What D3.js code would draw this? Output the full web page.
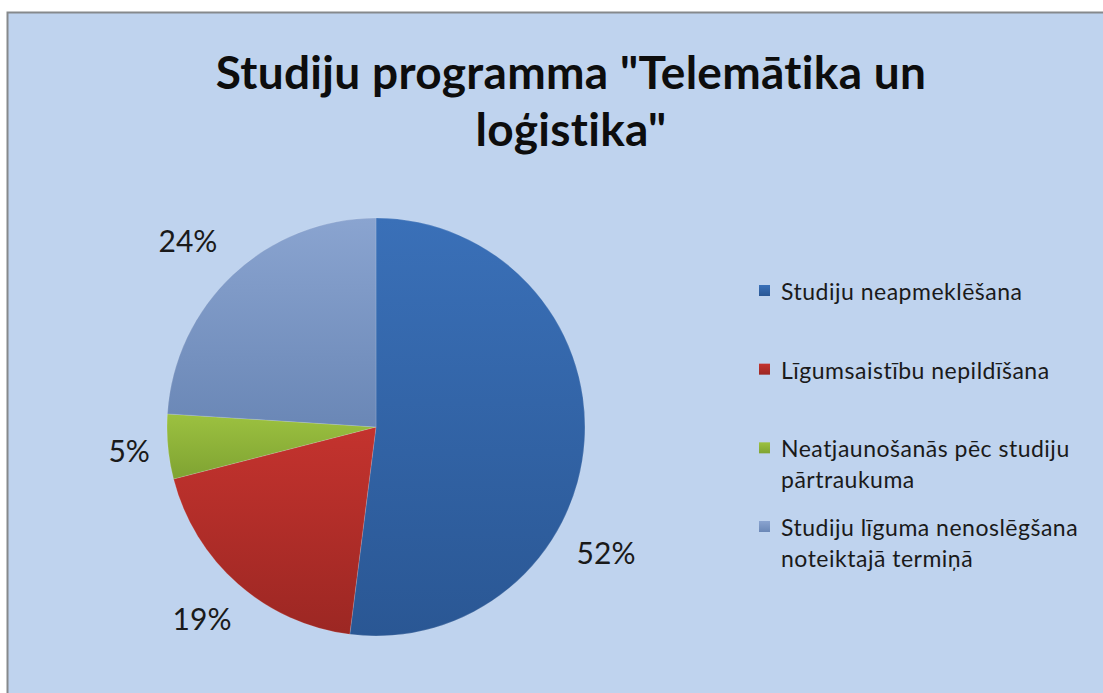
<!DOCTYPE html>
<html>
<head>
<meta charset="utf-8">
<script src="https://cdn.jsdelivr.net/npm/d3@7"></script>
<style>
  html, body { margin: 0; padding: 0; background: #fff; }
  svg { display: block; }
</style>
</head>
<body>
<div id="chart"></div>
<script>
// dati no attēla
const categories = [
  'Studiju neapmeklēšana',
  'Līgumsaistību nepildīšana',
  'Neatjaunošanās pēc studiju pārtraukuma',
  'Studiju līguma nenoslēgšana noteiktajā termiņā'
];
const legendLines = [
  ['Studiju neapmeklēšana'],
  ['Līgumsaistību nepildīšana'],
  ['Neatjaunošanās pēc studiju', 'pārtraukuma'],
  ['Studiju līguma nenoslēgšana', 'noteiktajā termiņā']
];
const values = [52, 19, 5, 24];
const titleLines = ['Studiju programma "Telemātika un', 'loģistika"'];

// krāsas (augša -> apakša gradientam)
const colorsTop = ['#3a70b8', '#c4332e', '#9cc140', '#8aa4d0'];
const colorsBot = ['#2a5794', '#9c2723', '#7fa332', '#6a87b6'];

const W = 1103, H = 693;
const cx = 376, cy = 427, R = 209;
const font = 'Lato, "Open Sans", sans-serif';

const svg = d3.select('#chart').append('svg')
  .attr('width', W).attr('height', H);

const defs = svg.append('defs');
categories.forEach((c, i) => {
  const g = defs.append('linearGradient')
    .attr('id', 'grad' + i)
    .attr('x1', 0).attr('y1', 0).attr('x2', 0).attr('y2', 1);
  g.append('stop').attr('offset', '0%').attr('stop-color', colorsTop[i]);
  g.append('stop').attr('offset', '100%').attr('stop-color', colorsBot[i]);
});

// fons + rāmis
svg.append('rect')
  .attr('x', 7.5).attr('y', 12.5)
  .attr('width', W + 10).attr('height', H + 10)
  .attr('fill', '#bfd3ee')
  .attr('stroke', '#86898c').attr('stroke-width', 2);

// virsraksts
const title = svg.append('text')
  .attr('text-anchor', 'middle')
  .attr('font-family', font)
  .attr('font-weight', 'bold')
  .attr('font-size', 46)
  .attr('letter-spacing', 0.3)
  .attr('fill', '#0d0d0d');
titleLines.forEach((t, i) => {
  title.append('tspan').attr('x', 571).attr('y', 89 + i * 57).text(t);
});

// pīrāgs
const pie = d3.pie().sort(null).value(d => d);
const arcs = pie(values);
const arc = d3.arc().innerRadius(0).outerRadius(R);

const g = svg.append('g').attr('transform', `translate(${cx},${cy})`);
g.selectAll('path.slice')
  .data(arcs)
  .join('path')
  .attr('class', 'slice')
  .attr('d', arc)
  .attr('fill', (d, i) => `url(#grad${i})`)
  .attr('stroke', 'rgba(255,255,255,0.25)')
  .attr('stroke-width', 0.6);

// datu etiķetes (Excel "best fit" nobīde lielākajam sektoram)
const labelShift = [25, 1, 0, -2];
const labelR = [262, 258, 248, 265];
g.selectAll('text.lbl')
  .data(arcs)
  .join('text')
  .attr('class', 'lbl')
  .attr('font-family', font)
  .attr('font-size', 30)
  .attr('fill', '#1a1a1a')
  .attr('text-anchor', 'middle')
  .attr('dominant-baseline', 'central')
  .attr('transform', (d, i) => {
    const a = (d.startAngle + d.endAngle) / 2 + labelShift[i] * Math.PI / 180;
    return `translate(${Math.sin(a) * labelR[i]},${-Math.cos(a) * labelR[i]})`;
  })
  .text(d => d.data + '%');

// leģenda
const legY = d3.scalePoint().domain(d3.range(categories.length)).range([291, 527]);
const leg = svg.append('g');
categories.forEach((c, i) => {
  const y = legY(i);
  leg.append('rect')
    .attr('x', 759).attr('y', y - 6)
    .attr('width', 11).attr('height', 11)
    .attr('fill', `url(#grad${i})`);
  const t = leg.append('text')
    .attr('font-family', font)
    .attr('font-size', 23)
    .attr('letter-spacing', 0.5)
    .attr('fill', '#1a1a1a')
    .attr('dominant-baseline', 'central');
  legendLines[i].forEach((ln, j) => {
    t.append('tspan').attr('x', 781).attr('y', y + j * 31).text(ln);
  });
});
</script>
</body>
</html>
